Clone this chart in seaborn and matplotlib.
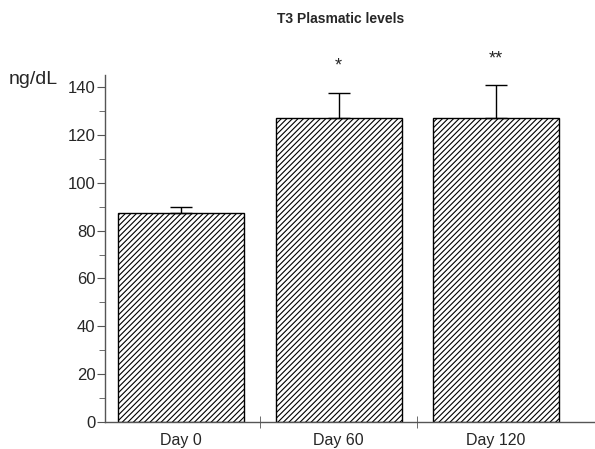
import numpy as np
import pandas as pd
import matplotlib
matplotlib.use("Agg")
import matplotlib.pyplot as plt
import seaborn as sns
from matplotlib.ticker import MultipleLocator, FixedLocator

# values
days = ["Day 0", "Day 60", "Day 120"]
t3_mean = [87.5, 127.2, 127.2]
t3_err = [2.2, 10.4, 13.5]
stars = ["", "*", "**"]

sns.set_style("ticks")
plt.rcParams['font.family'] = ['Liberation Sans', 'DejaVu Sans']
plt.rcParams['hatch.linewidth'] = 0.8

df = pd.DataFrame({"day": days, "t3": t3_mean})

fig = plt.figure(figsize=(5.95, 4.49), dpi=100)
ax = fig.add_axes([0.1765, 0.0601, 0.8235, 0.7728])

sns.barplot(data=df, x="day", y="t3", color="white", edgecolor="black",
            linewidth=1, hatch="//////", width=0.8, errorbar=None, ax=ax)
for p in ax.patches:
    p.set_facecolor("white")

xpos = np.arange(len(days))
ax.errorbar(xpos, t3_mean, yerr=[np.zeros(len(days)), t3_err], fmt="none",
            ecolor="black", elinewidth=1, capsize=8, capthick=1)
for x, m, e, s in zip(xpos, t3_mean, t3_err, stars):
    if s:
        ax.text(x, m + e + 11, s, ha="center", va="center", fontsize=13)

ax.set_xlim(-0.485, 2.63)
ax.set_ylim(0, 145)
ax.yaxis.set_major_locator(MultipleLocator(20))
ax.yaxis.set_minor_locator(MultipleLocator(10))
ax.set_xticks(xpos)
ax.set_xticklabels(days)
ax.xaxis.set_minor_locator(FixedLocator([0.5, 1.5]))
ax.tick_params(axis="x", which="major", length=0, labelsize=11.5, pad=8)
ax.tick_params(axis="x", which="minor", direction="inout", length=9, color="#555555")
ax.tick_params(axis="y", which="major", length=6, labelsize=12, color="#555555", pad=1)
ax.tick_params(axis="y", which="minor", length=4, color="#555555")
ax.set_xlabel("")
ax.set_ylabel("")
sns.despine(ax=ax)
for sp in ["left", "bottom"]:
    ax.spines[sp].set_color("#555555")
    ax.spines[sp].set_linewidth(1)

fig.text(341 / 595, 1 - 19 / 449, "T3 Plasmatic levels", ha="center", va="center",
         fontsize=10, fontweight="bold")
fig.text(9 / 595, 1 - 80 / 449, "ng/dL", ha="left", va="center", fontsize=14)

fig.savefig("out.png", dpi=100)
